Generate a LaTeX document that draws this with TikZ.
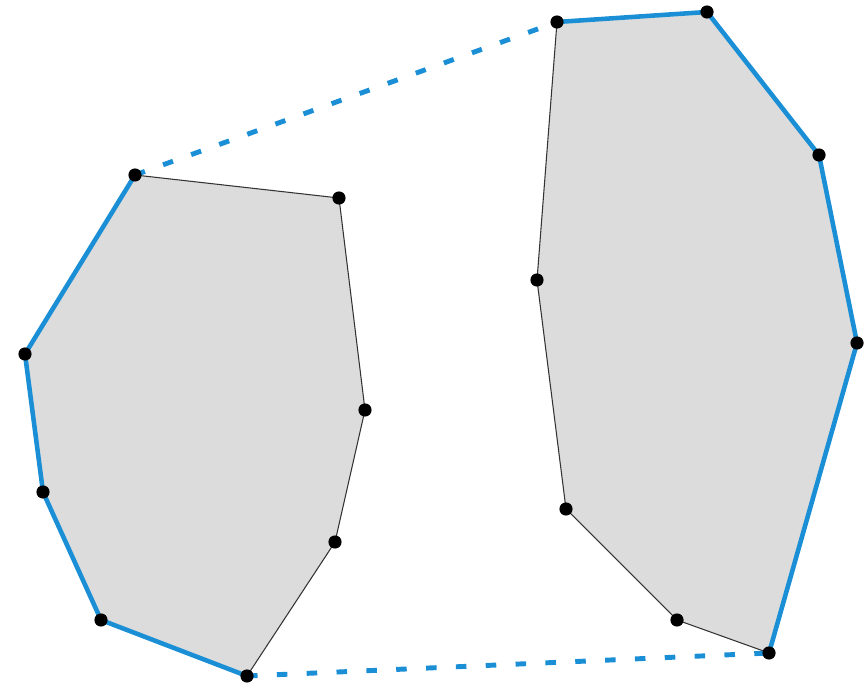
\documentclass[tikz,border=0pt]{standalone}
\definecolor{hullblue}{RGB}{27,143,214}
\definecolor{polyfill}{RGB}{220,220,220}
\tikzset{
  edgeline/.style={black!80, line width=0.6pt},
  hulledge/.style={hullblue, line width=2.6pt, line cap=round},
  bridge/.style={hullblue, line width=2.8pt, dash pattern=on 6pt off 11pt},
  vtx/.style={circle, fill=black, inner sep=0pt, minimum size=7.5pt},
}
\begin{document}
\begin{tikzpicture}[x=0.02cm, y=-0.02cm]
\useasboundingbox (0,0) rectangle (864,685);
% left polygon coordinates
\coordinate (A) at (135,175);
\coordinate (B) at (339,198);
\coordinate (C) at (365,410);
\coordinate (D) at (335,542);
\coordinate (E) at (247,676);
\coordinate (F) at (101,620);
\coordinate (G) at (43,492);
\coordinate (H) at (25,354);
% right polygon coordinates
\coordinate (P) at (557,22);
\coordinate (Q) at (707,12);
\coordinate (R) at (819,155);
\coordinate (S) at (857,343);
\coordinate (T) at (769,653);
\coordinate (U) at (677,620);
\coordinate (V) at (566,509);
\coordinate (W) at (537,280);
% fills
\fill[polyfill] (A) -- (B) -- (C) -- (D) -- (E) -- (F) -- (G) -- (H) -- cycle;
\fill[polyfill] (P) -- (Q) -- (R) -- (S) -- (T) -- (U) -- (V) -- (W) -- cycle;
% inner edges
\draw[edgeline] (A) -- (B) -- (C) -- (D) -- (E);
\draw[edgeline] (T) -- (U) -- (V) -- (W) -- (P);
% hull edges
\draw[hulledge, line join=round] (A) -- (H) -- (G) -- (F) -- (E);
\draw[hulledge, line join=round] (P) -- (Q) -- (R) -- (S) -- (T);
% bridges
\draw[bridge] (A) -- (P);
\draw[bridge] (E) -- (T);
% vertices
\foreach \p in {A,B,C,D,E,F,G,H,P,Q,R,S,T,U,V,W}
  \node[vtx] (v\p) at (\p) {};
\end{tikzpicture}
\end{document}
